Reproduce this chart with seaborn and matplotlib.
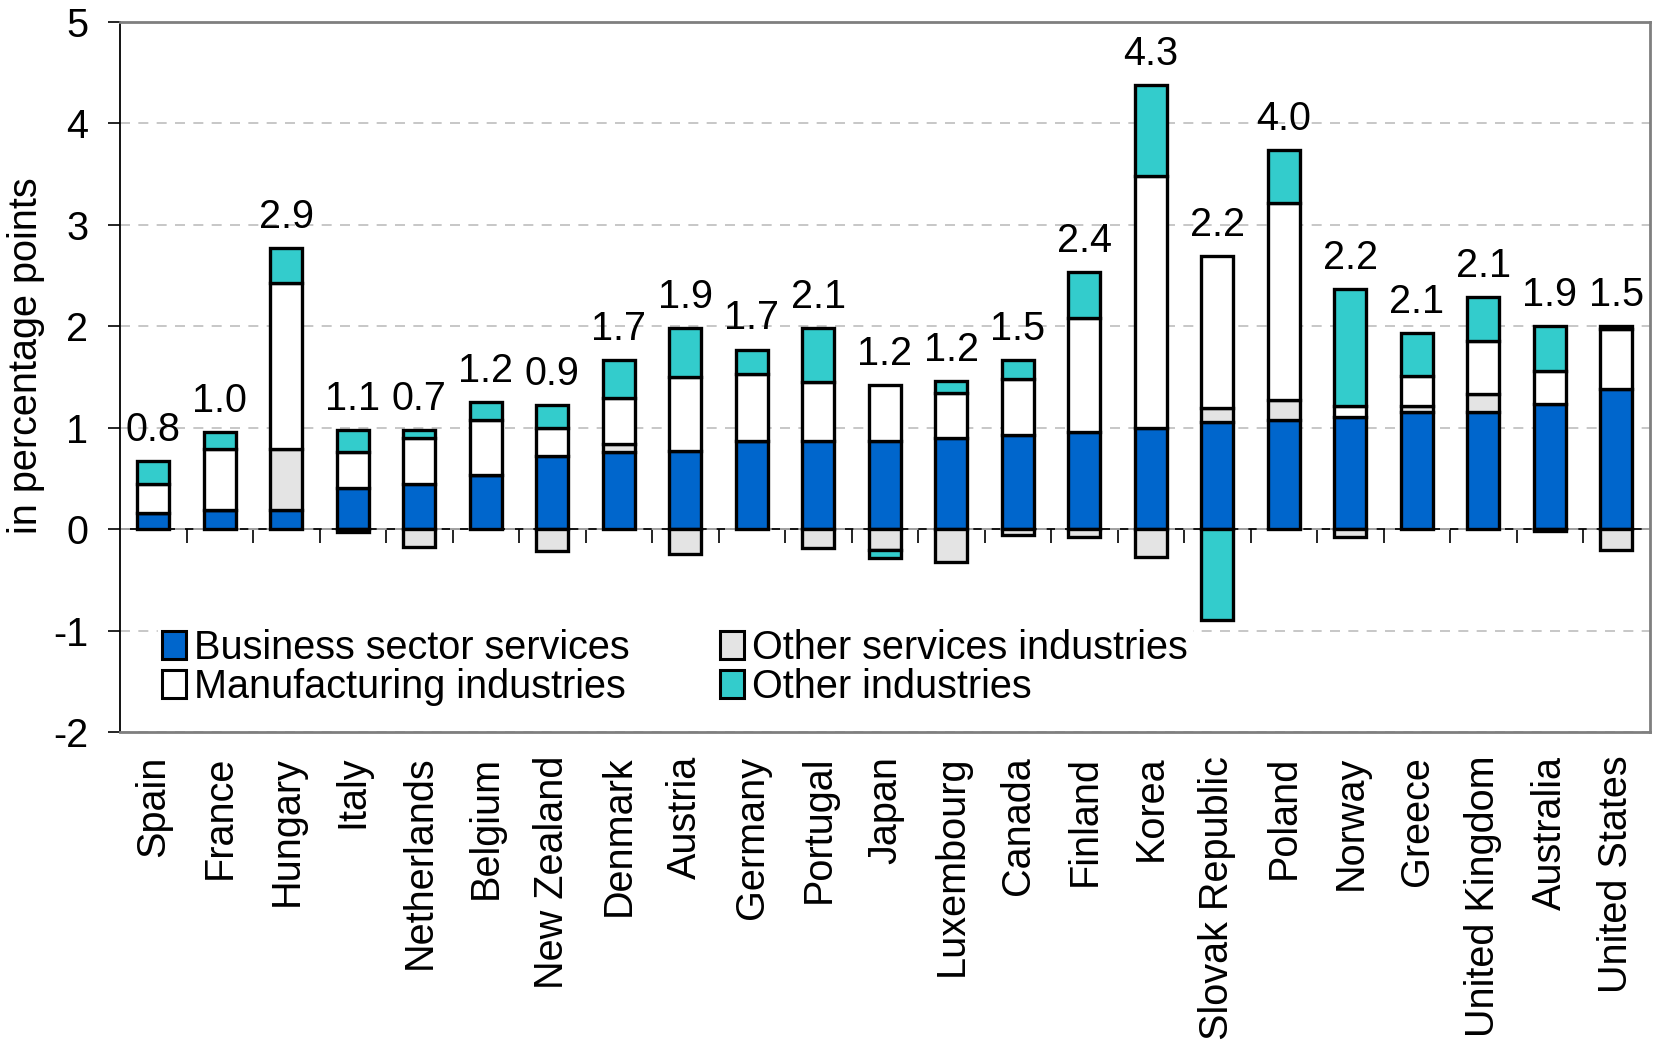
import numpy as np
import pandas as pd
import matplotlib
matplotlib.use("Agg")
import matplotlib.pyplot as plt
import seaborn as sns
from matplotlib.patches import Patch

countries = ["Spain", "France", "Hungary", "Italy", "Netherlands", "Belgium", "New Zealand",
             "Denmark", "Austria", "Germany", "Portugal", "Japan", "Luxembourg", "Canada",
             "Finland", "Korea", "Slovak Republic", "Poland", "Norway", "Greece",
             "United Kingdom", "Australia", "United States"]

business_services = [0.16, 0.19, 0.19, 0.41, 0.45, 0.53, 0.72, 0.76, 0.77, 0.87, 0.87, 0.87, 0.90,
                     0.93, 0.96, 1.00, 1.06, 1.08, 1.11, 1.16, 1.16, 1.23, 1.38]
other_services = [0.0, 0.0, 0.60, -0.03, -0.18, 0.0, -0.21, 0.08, -0.24, 0.0, -0.19, -0.20, -0.32,
                  -0.06, -0.08, -0.27, 0.13, 0.19, -0.08, 0.05, 0.17, -0.02, -0.20]
manufacturing = [0.29, 0.60, 1.64, 0.35, 0.45, 0.55, 0.28, 0.45, 0.73, 0.66, 0.58, 0.55, 0.44,
                 0.55, 1.12, 2.48, 1.50, 1.94, 0.10, 0.30, 0.52, 0.33, 0.59]
other_industries = [0.22, 0.17, 0.34, 0.22, 0.08, 0.17, 0.22, 0.38, 0.48, 0.24, 0.53, -0.08, 0.12,
                    0.19, 0.45, 0.90, -0.89, 0.53, 1.16, 0.42, 0.44, 0.44, 0.03]
total_labels = ["0.8", "1.0", "2.9", "1.1", "0.7", "1.2", "0.9", "1.7", "1.9", "1.7", "2.1", "1.2",
                "1.2", "1.5", "2.4", "4.3", "2.2", "4.0", "2.2", "2.1", "2.1", "1.9", "1.5"]

series_names = ["Business sector services", "Other services industries",
                "Manufacturing industries", "Other industries"]
series_vals = [business_services, other_services, manufacturing, other_industries]
series_colors = ["#0066CC", "#E4E4E4", "#FFFFFF", "#33CCCC"]

sns.set_theme(style="white")
plt.rcParams["font.family"] = ["Liberation Sans", "DejaVu Sans"]
plt.rcParams["text.color"] = "black"
plt.rcParams["axes.labelcolor"] = "black"
plt.rcParams["xtick.color"] = "black"
plt.rcParams["ytick.color"] = "black"

fig = plt.figure(figsize=(16.58, 10.4), dpi=100)
ax = fig.add_axes([0.0724, 0.296, 0.9226, 0.683])

n = len(countries)
pos_base = np.zeros(n)
neg_base = np.zeros(n)
for name, vals, col in zip(series_names, series_vals, series_colors):
    v = np.array(vals, dtype=float)
    bottoms = np.where(v >= 0, pos_base, neg_base)
    df = pd.DataFrame({"country": countries, "value": v})
    sns.barplot(data=df, x="country", y="value", order=countries, ax=ax,
                color=col, saturation=1, width=0.48, bottom=bottoms,
                edgecolor="black", linewidth=2.4, errorbar=None, zorder=3)
    pos_base = pos_base + np.where(v >= 0, v, 0)
    neg_base = neg_base + np.where(v < 0, v, 0)

for i, lab in enumerate(total_labels):
    ax.text(i, pos_base[i] + 0.12, lab, ha="center", va="bottom", fontsize=28.5, zorder=4)

ax.set_xlim(-0.5, n - 0.5)
ax.set_ylim(-2, 5)
ax.set_yticks(range(-2, 6))
ax.set_yticklabels([str(t) for t in range(-2, 6)])
ax.tick_params(axis="y", direction="out", length=9, width=1.2, color="black",
               labelsize=28.5, pad=14, left=True, labelcolor="black")
ax.tick_params(axis="x", length=0, labelsize=28.5, pad=17, labelrotation=90, labelcolor="black")
ax.set_xlabel("")
ax.set_ylabel("in percentage points", fontsize=28.5, color="black")
ax.yaxis.set_label_coords(-0.049, 0.53)

ax.grid(axis="y", linestyle=(0, (6, 5)), color="#BDBDBD", linewidth=1.2, zorder=0)
ax.grid(axis="x", visible=False)

for s in ["top", "right", "bottom"]:
    ax.spines[s].set_color("#7F7F7F")
    ax.spines[s].set_linewidth(2)
ax.spines["left"].set_color("black")
ax.spines["left"].set_linewidth(1.3)

# zero axis line with category separator ticks
sec = ax.secondary_xaxis(0, transform=ax.transData)
sec.set_xticks(np.arange(n - 1) + 0.5)
sec.set_xticklabels([])
sec.tick_params(axis="x", direction="out", length=10, width=1.2, color="black")
sec.spines["bottom"].set_color("black")
sec.spines["bottom"].set_linewidth(1.3)

handles = [Patch(facecolor=c, edgecolor="black", linewidth=2.2, label=nm)
           for nm, c in zip(series_names, series_colors)]
order = [0, 2, 1, 3]
leg = ax.legend([handles[i] for i in order], [series_names[i] for i in order],
                ncol=2, loc="lower left", bbox_to_anchor=(0.012, 0.004), fontsize=28.5,
                frameon=True, fancybox=False, framealpha=1, edgecolor="white",
                handlelength=0.6, handleheight=0.7, handletextpad=0.2,
                columnspacing=2.3, labelspacing=0.02, borderpad=0.1)
leg.set_zorder(5)

fig.savefig("out.png", dpi=100, facecolor="white")
